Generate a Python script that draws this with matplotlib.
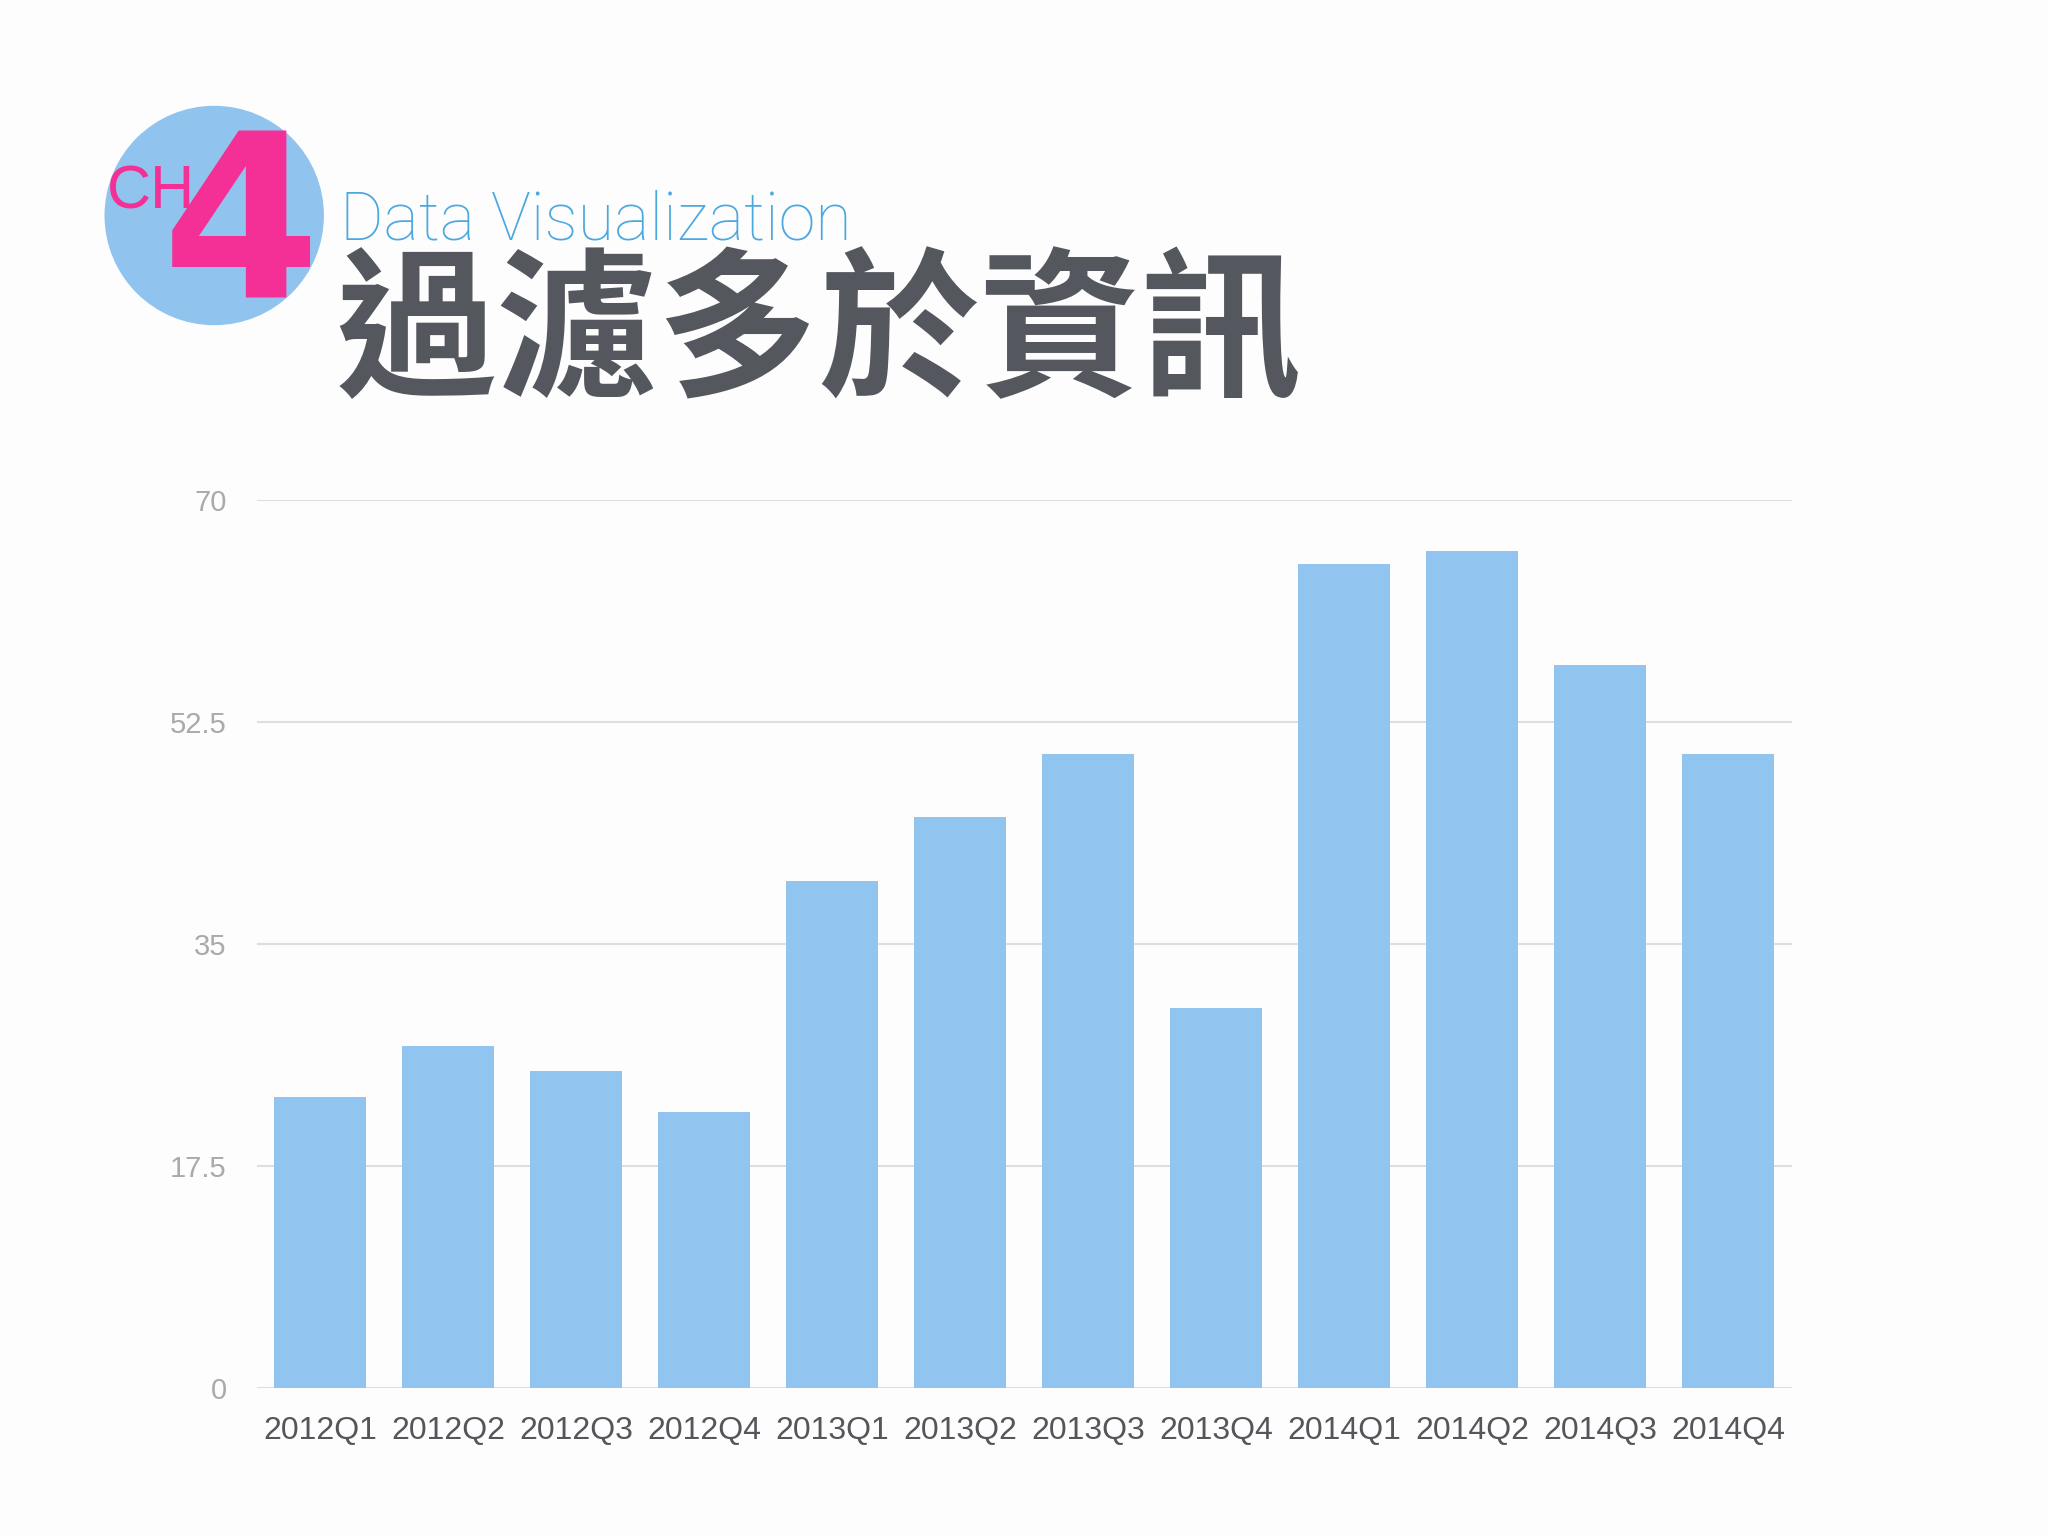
import matplotlib.pyplot as plt
from matplotlib.patches import Ellipse
import numpy as np

quarters = ['2012Q1', '2012Q2', '2012Q3', '2012Q4',
            '2013Q1', '2013Q2', '2013Q3', '2013Q4',
            '2014Q1', '2014Q2', '2014Q3', '2014Q4']
values = [23, 27, 25, 21.8, 40, 45, 50, 30, 65, 66, 57, 50]
yticks = [0, 17.5, 35, 52.5, 70]
ytick_labels = ['0', '17.5', '35', '52.5', '70']

title_en = 'Data Visualization'
title_zh = '過濾多於資訊'

bar_color = '#92c4f0'
pink = '#f42f96'

fig = plt.figure(figsize=(20.48, 15.36), dpi=100, facecolor='#fdfdfe')

# header badge
fig.add_artist(Ellipse((0.1046, 0.8597), width=168 / 1568, height=168 / 1176,
                       transform=fig.transFigure, color='#90c4ef', lw=0))
fig.text(0.052, 0.864, 'CH', fontsize=44, color=pink, family='Liberation Sans',
         weight='light', ha='left', va='baseline')
fig.text(0.079, 0.806, '4', fontsize=164, color=pink, family='DejaVu Sans',
         weight='bold', ha='left', va='baseline')
fig.text(0.166, 0.8444, title_en, fontsize=48, color='#4aa8e0',
         family='Roboto', weight='light', ha='left', va='baseline')
fig.text(0.164, 0.834, title_zh, fontsize=116, color='#54585e',
         family=['Noto Sans CJK TC', 'DejaVu Sans'], weight='black',
         ha='left', va='top')

ax = fig.add_axes([0.1256, 0.0961, 0.875 - 0.1256, 0.6743 - 0.0961])
ax.set_facecolor('none')
x = np.arange(len(quarters))
ax.bar(x, values, width=0.714, color=bar_color, zorder=2)

ax.set_xlim(-0.49, len(quarters) - 0.5)
ax.set_ylim(0, 70)
ax.set_yticks(yticks)
ax.set_yticklabels(ytick_labels)
ax.set_xticks(x)
ax.set_xticklabels(quarters)
ax.grid(axis='y', color='#dedede', lw=1.5, zorder=0)
for s in ax.spines.values():
    s.set_visible(False)
ax.tick_params(axis='both', length=0)
ax.tick_params(axis='x', labelsize=23, labelcolor='#555659', pad=20)
ax.tick_params(axis='y', labelsize=21, labelcolor='#aaaaaa', pad=22)
for lab in ax.get_xticklabels() + ax.get_yticklabels():
    lab.set_family('Liberation Sans')

fig.savefig('out.png', dpi=100, facecolor=fig.get_facecolor())
